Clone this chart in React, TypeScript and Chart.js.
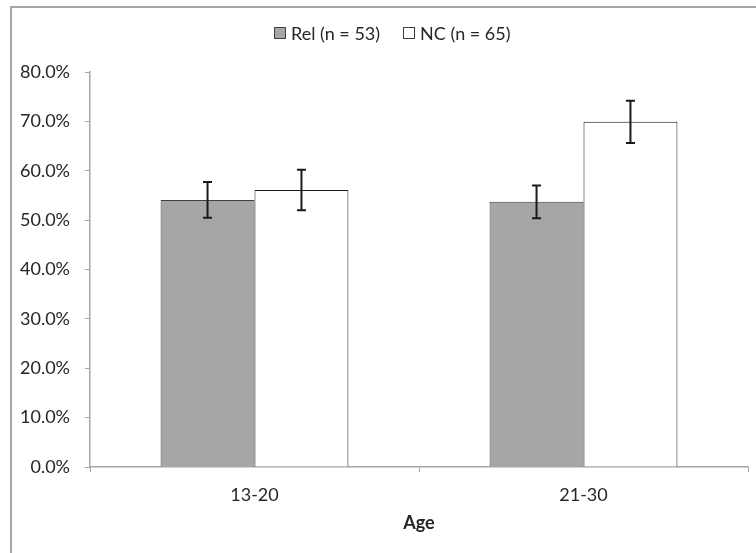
import React, { useEffect, useRef } from "react";
import { Chart, registerables } from "chart.js";

Chart.register(...registerables);

const categories = ["13-20", "21-30"];
const relLabel = "Rel (n = 53)";
const ncLabel = "NC (n = 65)";
const relValues = [54.1, 53.7];
const relErrors = [3.6, 3.3];
const ncValues = [56.1, 69.9];
const ncErrors = [4.1, 4.3];
const xTitle = "Age";
const yMax = 80;
const yStep = 10;

const FONT = "Lato, 'Open Sans', sans-serif";
const AXIS_GRAY = "#a6a6a6";
const TEXT = "#262626";

const errorBarPlugin = {
  id: "errorBars",
  afterDatasetsDraw(chart: any) {
    const ctx = chart.ctx;
    const yScale = chart.scales.y;
    chart.data.datasets.forEach((ds: any, di: number) => {
      const meta = chart.getDatasetMeta(di);
      const errs: number[] = ds.errors || [];
      meta.data.forEach((bar: any, i: number) => {
        const v = ds.data[i];
        const e = errs[i];
        if (v == null || e == null) return;
        const x = bar.x;
        const yHi = yScale.getPixelForValue(v + e);
        const yLo = yScale.getPixelForValue(v - e);
        ctx.save();
        ctx.strokeStyle = "#1a1a1a";
        ctx.lineWidth = 2;
        ctx.beginPath();
        ctx.moveTo(x, yHi);
        ctx.lineTo(x, yLo);
        ctx.moveTo(x - 4.5, yHi);
        ctx.lineTo(x + 4.5, yHi);
        ctx.moveTo(x - 4.5, yLo);
        ctx.lineTo(x + 4.5, yLo);
        ctx.stroke();
        ctx.restore();
      });
    });
  },
};

export default function App() {
  const canvasRef = useRef<HTMLCanvasElement | null>(null);

  useEffect(() => {
    if (!canvasRef.current) return;
    const chart = new Chart(canvasRef.current, {
      type: "bar",
      data: {
        labels: categories,
        datasets: [
          {
            label: relLabel,
            data: relValues,
            errors: relErrors,
            backgroundColor: "#a6a6a6",
            borderColor: "#404040",
            borderWidth: 1,
            categoryPercentage: 0.571,
            barPercentage: 1,
          } as any,
          {
            label: ncLabel,
            data: ncValues,
            errors: ncErrors,
            backgroundColor: "#ffffff",
            borderColor: "#1a1a1a",
            borderWidth: 1,
            categoryPercentage: 0.571,
            barPercentage: 1,
          } as any,
        ],
      },
      options: {
        responsive: false,
        animation: false,
        layout: { padding: { top: 72, right: 8, left: 0, bottom: 0 } },
        plugins: {
          legend: { display: false },
          tooltip: { enabled: false },
        },
        scales: {
          x: {
            afterFit: (s: any) => {
              s.height = 86;
            },
            grid: {
              drawOnChartArea: false,
              drawTicks: true,
              tickLength: 5,
              color: AXIS_GRAY,
              offset: true,
            },
            border: { display: true, color: AXIS_GRAY, width: 1.5 },
            ticks: {
              color: TEXT,
              font: { family: FONT, size: 18 },
              padding: 12,
            },
            title: {
              display: true,
              text: xTitle,
              color: TEXT,
              font: { family: FONT, size: 18, weight: "bold" },
              padding: { top: 0, bottom: 19 },
            },
          },
          y: {
            min: 0,
            max: yMax,
            afterFit: (s: any) => {
              s.width = 90;
            },
            grid: {
              drawOnChartArea: false,
              drawTicks: true,
              tickLength: 5,
              color: AXIS_GRAY,
            },
            border: { display: true, color: AXIS_GRAY, width: 1.5 },
            ticks: {
              stepSize: yStep,
              color: TEXT,
              font: { family: FONT, size: 18 },
              padding: 15,
              callback: (v: any) => Number(v).toFixed(1) + "%",
            },
          },
        },
      },
      plugins: [errorBarPlugin],
    } as any);
    return () => chart.destroy();
  }, []);

  const box = (fill: string): React.CSSProperties => ({
    width: 12,
    height: 12,
    boxSizing: "border-box",
    background: fill,
    border: "1px solid #404040",
    marginRight: 5,
  });

  return (
    <div
      style={{
        position: "fixed",
        left: 0,
        top: 0,
        width: 756,
        height: 553,
        background: "#fff",
        overflow: "hidden",
      }}
    >
      <div
        style={{
          position: "absolute",
          left: 10,
          top: 6,
          right: 0,
          bottom: 0,
          borderLeft: "2px solid #a6a6a6",
          borderTop: "2px solid #a6a6a6",
        }}
      />
      <canvas
        ref={canvasRef}
        width={756}
        height={553}
        style={{ position: "absolute", left: 0, top: 0 }}
      />
      <div
        style={{
          position: "absolute",
          left: 274,
          top: 24,
          height: 18,
          display: "flex",
          alignItems: "center",
          fontFamily: FONT,
          fontSize: 18,
          lineHeight: "18px",
          color: TEXT,
          whiteSpace: "nowrap",
        }}
      >
        <div style={box("#a6a6a6")} />
        <span style={{ marginRight: 23 }}>{relLabel}</span>
        <div style={box("#ffffff")} />
        <span>{ncLabel}</span>
      </div>
    </div>
  );
}
